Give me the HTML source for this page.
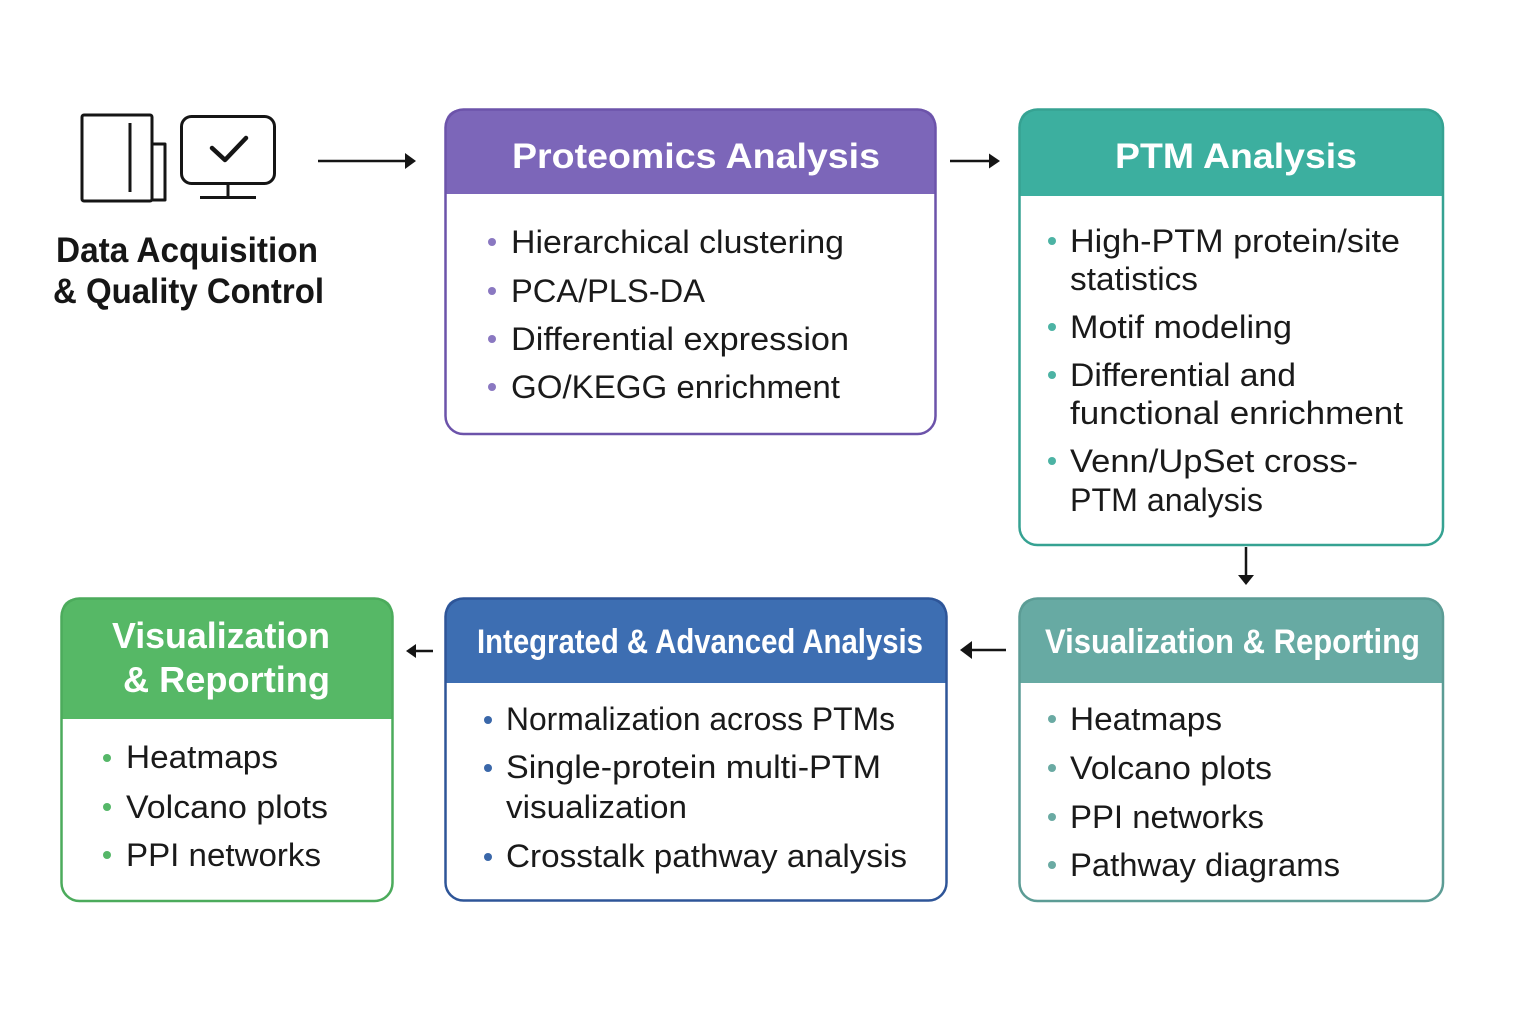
<!DOCTYPE html>
<html>
<head>
<meta charset="utf-8">
<style>
  html,body{margin:0;padding:0;background:#fff;}
  svg{display:block;}
  .t{font-family:"Liberation Sans",sans-serif;font-weight:bold;fill:#fff;}
  .b{font-family:"Liberation Sans",sans-serif;fill:#1a1a1a;font-size:32px;}
  .h{font-family:"Liberation Sans",sans-serif;font-weight:bold;fill:#161616;font-size:35px;}
</style>
</head>
<body>
<svg width="1536" height="1024" viewBox="0 0 1536 1024" xmlns="http://www.w3.org/2000/svg">
  <rect width="1536" height="1024" fill="#fff"/>

  <!-- Icons -->
  <g fill="none" stroke="#151515" stroke-width="3" stroke-linejoin="round">
    <path d="M152,144 H165 V200 H146"/>
    <rect x="82" y="115" width="70" height="86" rx="2" fill="#fff"/>
    <line x1="130" y1="123" x2="130" y2="192"/>
    <rect x="181.5" y="116.5" width="93" height="67" rx="10"/>
    <line x1="228" y1="184" x2="228" y2="197"/>
    <line x1="200" y1="197.5" x2="256" y2="197.5"/>
    <path d="M212,148 L225,160 L246,138" stroke-width="4.5" stroke-linecap="round"/>
  </g>
  <text class="h" x="56" y="262" textLength="262" lengthAdjust="spacingAndGlyphs">Data Acquisition</text>
  <text class="h" x="53" y="303" textLength="271" lengthAdjust="spacingAndGlyphs">&amp; Quality Control</text>

  <!-- Arrows -->
  <g stroke="#151515" stroke-width="2.5" fill="#151515">
    <line x1="318" y1="161" x2="407" y2="161"/>
    <path d="M416,161 L405,153 L405,169 Z" stroke="none"/>
    <line x1="950" y1="161" x2="990" y2="161"/>
    <path d="M1000,161 L989,153.5 L989,168.5 Z" stroke="none"/>
    <line x1="1246" y1="547" x2="1246" y2="576"/>
    <path d="M1246,585 L1238,575 L1254,575 Z" stroke="none"/>
    <line x1="1006" y1="650" x2="970" y2="650"/>
    <path d="M960,650 L972,641 L972,659 Z" stroke="none"/>
    <line x1="433" y1="651" x2="414" y2="651"/>
    <path d="M406,651 L416,644 L416,658 Z" stroke="none"/>
  </g>

  <!-- Box 1: Proteomics Analysis -->
  <path d="M445,194 V127 Q445,109 463,109 H918 Q936,109 936,127 V194 Z" fill="#7c66b9"/>
  <rect x="445.5" y="109.5" width="490" height="324.5" rx="18" fill="none" stroke="#6c53aa" stroke-width="2.5"/>
  <text class="t" x="512" y="168" font-size="35" textLength="368" lengthAdjust="spacingAndGlyphs">Proteomics Analysis</text>
  <g fill="#8a78c1">
    <circle cx="492" cy="242" r="4"/><circle cx="492" cy="291" r="4"/><circle cx="492" cy="339" r="4"/><circle cx="492" cy="387" r="4"/>
  </g>
  <text class="b" x="511" y="253" textLength="333" lengthAdjust="spacingAndGlyphs">Hierarchical clustering</text>
  <text class="b" x="511" y="302" textLength="194" lengthAdjust="spacingAndGlyphs">PCA/PLS-DA</text>
  <text class="b" x="511" y="350" textLength="338" lengthAdjust="spacingAndGlyphs">Differential expression</text>
  <text class="b" x="511" y="398" textLength="329" lengthAdjust="spacingAndGlyphs">GO/KEGG enrichment</text>

  <!-- Box 2: PTM Analysis -->
  <path d="M1019,196 V127 Q1019,109 1037,109 H1425 Q1443,109 1443,127 V196 Z" fill="#3caf9f"/>
  <rect x="1019.5" y="109.5" width="423.5" height="435.5" rx="18" fill="none" stroke="#36a292" stroke-width="2.5"/>
  <text class="t" x="1115" y="168" font-size="35" textLength="242" lengthAdjust="spacingAndGlyphs">PTM Analysis</text>
  <g fill="#4cb3a4">
    <circle cx="1052" cy="241" r="4"/><circle cx="1052" cy="327" r="4"/><circle cx="1052" cy="375" r="4"/><circle cx="1052" cy="461" r="4"/>
  </g>
  <text class="b" x="1070" y="252" textLength="330" lengthAdjust="spacingAndGlyphs">High-PTM protein/site</text>
  <text class="b" x="1070" y="290" textLength="128" lengthAdjust="spacingAndGlyphs">statistics</text>
  <text class="b" x="1070" y="338" textLength="222" lengthAdjust="spacingAndGlyphs">Motif modeling</text>
  <text class="b" x="1070" y="386" textLength="226" lengthAdjust="spacingAndGlyphs">Differential and</text>
  <text class="b" x="1070" y="424" textLength="333" lengthAdjust="spacingAndGlyphs">functional enrichment</text>
  <text class="b" x="1070" y="472" textLength="288" lengthAdjust="spacingAndGlyphs">Venn/UpSet cross-</text>
  <text class="b" x="1070" y="511" textLength="193" lengthAdjust="spacingAndGlyphs">PTM analysis</text>

  <!-- Box 3: Visualization & Reporting (teal-gray) -->
  <path d="M1019,683 V616 Q1019,598 1037,598 H1425 Q1443,598 1443,616 V683 Z" fill="#67aaa3"/>
  <rect x="1019.5" y="598.5" width="423.5" height="302.5" rx="18" fill="none" stroke="#5c9c95" stroke-width="2.5"/>
  <text class="t" x="1045" y="653" font-size="34" textLength="375" lengthAdjust="spacingAndGlyphs">Visualization &amp; Reporting</text>
  <g fill="#6aaaa3">
    <circle cx="1052" cy="719" r="4"/><circle cx="1052" cy="768" r="4"/><circle cx="1052" cy="817" r="4"/><circle cx="1052" cy="865" r="4"/>
  </g>
  <text class="b" x="1070" y="730" textLength="152" lengthAdjust="spacingAndGlyphs">Heatmaps</text>
  <text class="b" x="1070" y="779" textLength="202" lengthAdjust="spacingAndGlyphs">Volcano plots</text>
  <text class="b" x="1070" y="828" textLength="194" lengthAdjust="spacingAndGlyphs">PPI networks</text>
  <text class="b" x="1070" y="876" textLength="270" lengthAdjust="spacingAndGlyphs">Pathway diagrams</text>

  <!-- Box 4: Integrated & Advanced Analysis -->
  <path d="M445,683 V616 Q445,598 463,598 H929 Q947,598 947,616 V683 Z" fill="#3d6eb2"/>
  <rect x="445.5" y="598.5" width="501" height="302" rx="18" fill="none" stroke="#2e5598" stroke-width="2.5"/>
  <text class="t" x="477" y="653" font-size="34" textLength="446" lengthAdjust="spacingAndGlyphs">Integrated &amp; Advanced Analysis</text>
  <g fill="#3a67a9">
    <circle cx="488" cy="720" r="4"/><circle cx="488" cy="768" r="4"/><circle cx="488" cy="857" r="4"/>
  </g>
  <text class="b" x="506" y="730" textLength="389" lengthAdjust="spacingAndGlyphs">Normalization across PTMs</text>
  <text class="b" x="506" y="778" textLength="375" lengthAdjust="spacingAndGlyphs">Single-protein multi-PTM</text>
  <text class="b" x="506" y="818" textLength="181" lengthAdjust="spacingAndGlyphs">visualization</text>
  <text class="b" x="506" y="867" textLength="401" lengthAdjust="spacingAndGlyphs">Crosstalk pathway analysis</text>

  <!-- Box 5: Visualization & Reporting (green) -->
  <path d="M61,719 V616 Q61,598 79,598 H375 Q393,598 393,616 V719 Z" fill="#56b866"/>
  <rect x="61.5" y="598.5" width="331" height="302.5" rx="18" fill="none" stroke="#4cab5c" stroke-width="2.5"/>
  <text class="t" x="112" y="648" font-size="36" textLength="218" lengthAdjust="spacingAndGlyphs">Visualization</text>
  <text class="t" x="123" y="692" font-size="36" textLength="207" lengthAdjust="spacingAndGlyphs">&amp; Reporting</text>
  <g fill="#55b768">
    <circle cx="107" cy="758" r="4"/><circle cx="107" cy="807" r="4"/><circle cx="107" cy="855" r="4"/>
  </g>
  <text class="b" x="126" y="768" textLength="152" lengthAdjust="spacingAndGlyphs">Heatmaps</text>
  <text class="b" x="126" y="818" textLength="202" lengthAdjust="spacingAndGlyphs">Volcano plots</text>
  <text class="b" x="126" y="866" textLength="195" lengthAdjust="spacingAndGlyphs">PPI networks</text>
</svg>
</body>
</html>
